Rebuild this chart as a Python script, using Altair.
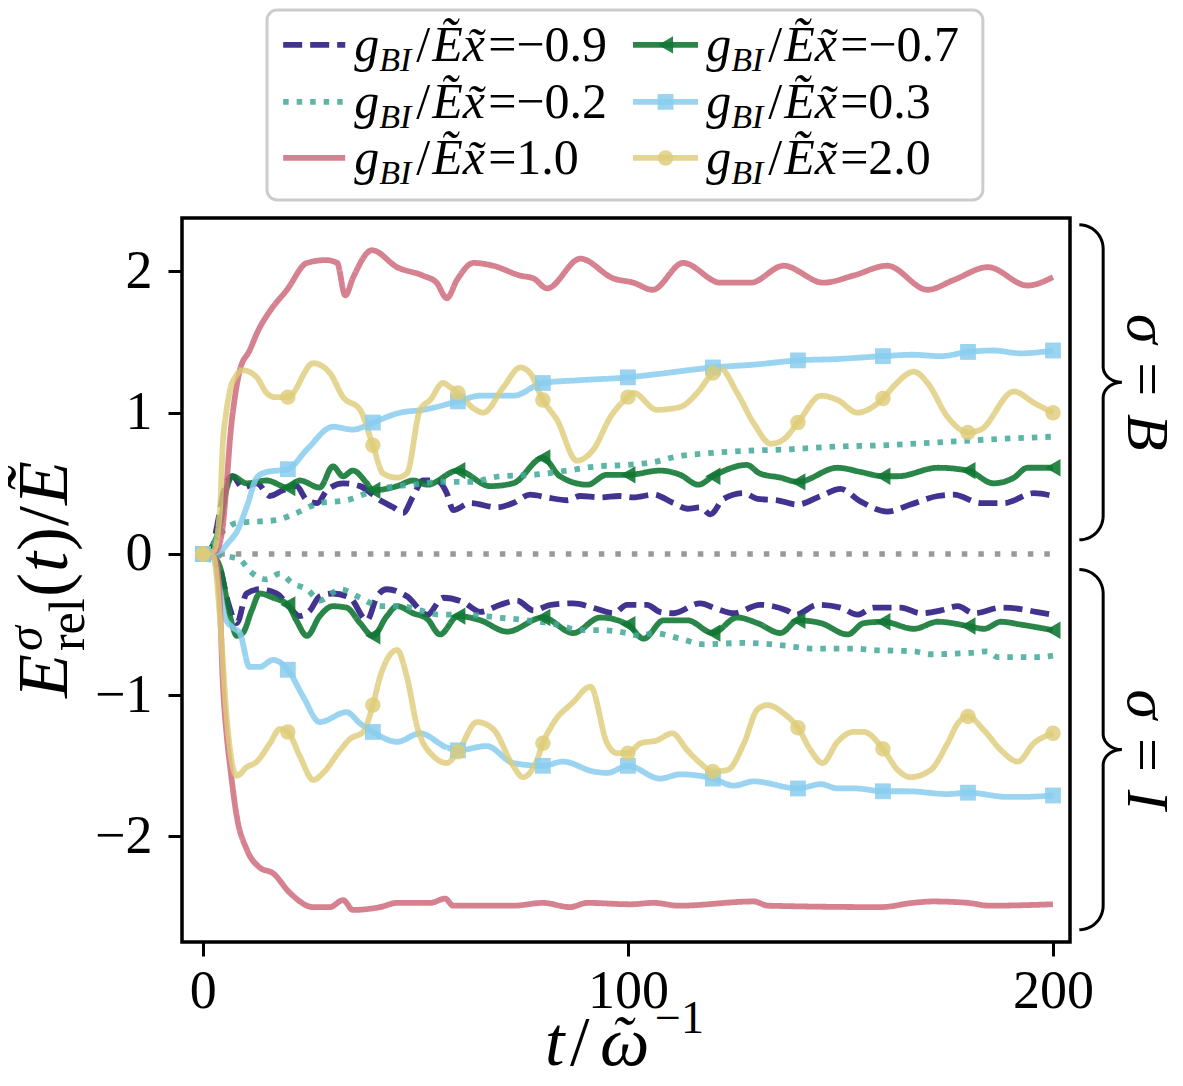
import altair as alt
import numpy as np
import pandas as pd

# ---------------- series identity ----------------
G_VALUES = ["-0.9", "-0.7", "-0.2", "0.3", "1.0", "2.0"]
G_TEXT = ["=\u22120.9", "=\u22120.7", "=\u22120.2", "=0.3", "=1.0", "=2.0"]
TICKS_X = [0, 100, 200]
TICKS_Y = [-2, -1, 0, 1, 2]

# ---------------- data ----------------
# g = -0.9 (dashed)
NB_t = [0, 2, 3.3, 5, 7, 9.4, 12.7, 15.8, 18.8, 22, 24.5, 26.9, 29.2, 33, 37, 41.7, 44.8, 47.1, 49.5, 51.8, 55, 57.4, 58.9, 62.9, 69.2, 73, 77, 81, 85.7, 88.8, 93.5, 98, 101.3, 106, 110.7, 114, 117, 119.4, 122.5, 127.2, 130.5, 135.2, 139.9, 145.4, 150, 154.8, 161, 166.5, 172.9, 176.7, 183, 188.5, 195.5, 200]
NB_v = [0, 0.02, 0.19, 0.45, 0.55, 0.47, 0.50, 0.41, 0.45, 0.48, 0.38, 0.36, 0.45, 0.50, 0.48, 0.38, 0.33, 0.29, 0.41, 0.52, 0.52, 0.43, 0.31, 0.36, 0.33, 0.36, 0.42, 0.40, 0.38, 0.41, 0.40, 0.41, 0.40, 0.42, 0.36, 0.32, 0.33, 0.28, 0.39, 0.43, 0.39, 0.38, 0.35, 0.41, 0.46, 0.37, 0.30, 0.35, 0.41, 0.42, 0.36, 0.36, 0.43, 0.41]
NI_t = [0, 2.4, 4, 6, 8, 10.3, 13.4, 17.4, 20.5, 22.8, 25.2, 27.5, 30.6, 34.6, 38.6, 41, 43.3, 48, 52.8, 56.5, 61.2, 65.3, 70, 73.9, 77.8, 81.8, 87.1, 92.8, 96.6, 99.8, 104.5, 107.5, 110.7, 117, 121, 124.9, 131, 137.4, 139.5, 144.6, 150, 154, 157.8, 164.2, 168.9, 173.6, 177.6, 181.4, 187.8, 192.4, 196, 200]
NI_v = [0, -0.02, -0.10, -0.35, -0.49, -0.28, -0.25, -0.28, -0.38, -0.44, -0.40, -0.30, -0.28, -0.31, -0.47, -0.30, -0.25, -0.30, -0.43, -0.31, -0.34, -0.41, -0.36, -0.33, -0.40, -0.36, -0.35, -0.39, -0.42, -0.36, -0.36, -0.41, -0.42, -0.35, -0.39, -0.42, -0.36, -0.40, -0.43, -0.36, -0.38, -0.43, -0.38, -0.38, -0.42, -0.40, -0.37, -0.42, -0.38, -0.39, -0.41, -0.43]

# g = -0.7 (triangles)
GB_t = [0, 2.5, 4, 5.5, 7, 10.3, 15, 20, 22.8, 27.5, 30.6, 33, 35.3, 38.6, 40, 45.7, 49.5, 52.8, 60, 67.6, 73, 80, 84, 90.5, 95, 100, 107.6, 112.3, 116.6, 120, 128, 131, 135.9, 140, 149.3, 154.8, 160, 163.5, 172.9, 180, 186, 190.8, 194, 200]
GB_v = [0, 0.07, 0.2, 0.45, 0.55, 0.50, 0.52, 0.47, 0.52, 0.47, 0.62, 0.55, 0.59, 0.50, 0.45, 0.48, 0.52, 0.49, 0.59, 0.48, 0.50, 0.68, 0.55, 0.49, 0.56, 0.56, 0.59, 0.56, 0.49, 0.55, 0.63, 0.57, 0.54, 0.51, 0.61, 0.58, 0.55, 0.55, 0.61, 0.59, 0.50, 0.54, 0.61, 0.61]
GI_t = [0, 2.5, 4, 6.4, 8, 9.4, 11.5, 13.4, 16.5, 20, 22, 24.5, 27.5, 30.6, 33.8, 37, 40, 43.3, 45.7, 49.5, 52.8, 55.8, 60, 65.3, 71.6, 80, 87.1, 93.5, 100, 103.7, 108.4, 114, 120, 125.7, 130.5, 135.9, 140, 145.4, 151.7, 155.5, 160, 167.3, 172.9, 180, 183.8, 187.8, 192.4, 200]
GI_v = [0, -0.02, -0.09, -0.44, -0.58, -0.56, -0.40, -0.28, -0.31, -0.36, -0.47, -0.58, -0.44, -0.37, -0.38, -0.49, -0.58, -0.44, -0.37, -0.42, -0.46, -0.57, -0.44, -0.47, -0.55, -0.45, -0.56, -0.45, -0.50, -0.60, -0.47, -0.47, -0.56, -0.45, -0.49, -0.56, -0.47, -0.49, -0.57, -0.49, -0.48, -0.53, -0.48, -0.51, -0.53, -0.48, -0.50, -0.54]

# g = -0.2 (dotted)
TB_t = [0, 2, 3.5, 5.5, 8, 13.4, 17.4, 22, 27.5, 33.8, 38.6, 43.3, 49.5, 55.8, 62.9, 70, 77.8, 85.7, 92.8, 99.8, 106, 111.6, 117.8, 128, 137.4, 149.3, 161, 172.9, 184.7, 200]
TB_v = [0, 0.05, 0.12, 0.18, 0.22, 0.23, 0.24, 0.29, 0.36, 0.38, 0.43, 0.47, 0.49, 0.51, 0.51, 0.55, 0.56, 0.59, 0.62, 0.63, 0.65, 0.69, 0.71, 0.73, 0.74, 0.76, 0.77, 0.79, 0.81, 0.83]
TI_t = [0, 4, 8.7, 11, 15, 18.1, 21.2, 24.5, 27.5, 32.3, 37, 41.7, 46.4, 51.1, 55.8, 62.1, 69.2, 76.3, 83.3, 88.8, 94.2, 99.8, 103, 106, 112.3, 117.8, 127.3, 137.4, 143, 153, 157.8, 167.3, 171.2, 180.7, 184.5, 187, 196.4, 200]
TI_v = [0, -0.01, -0.04, -0.12, -0.18, -0.14, -0.21, -0.25, -0.33, -0.25, -0.31, -0.37, -0.37, -0.40, -0.43, -0.43, -0.45, -0.47, -0.50, -0.54, -0.54, -0.56, -0.58, -0.56, -0.60, -0.64, -0.63, -0.65, -0.67, -0.67, -0.68, -0.69, -0.71, -0.70, -0.69, -0.73, -0.73, -0.72]

# g = 0.3 (squares)
BB_t = [0, 4, 6, 8.2, 10.5, 12.7, 15, 20, 24.5, 30.6, 35.3, 40, 46.4, 51.8, 60, 65.3, 73, 80, 88.8, 100, 106, 114, 120, 129.6, 140, 149.3, 160, 167, 173.6, 180, 186, 192.4, 200]
BB_v = [0, 0.02, 0.08, 0.17, 0.35, 0.54, 0.58, 0.60, 0.74, 0.90, 0.88, 0.93, 1.00, 1.02, 1.08, 1.12, 1.12, 1.21, 1.23, 1.25, 1.27, 1.30, 1.32, 1.34, 1.37, 1.38, 1.40, 1.41, 1.40, 1.43, 1.44, 1.42, 1.44]
BI_t = [0, 2.5, 4, 5.2, 7, 8.7, 11, 13.4, 16.5, 20, 23.6, 27.5, 33.8, 37, 40, 45.7, 51.1, 57.4, 60, 66.8, 73, 80, 84.7, 91.9, 95.1, 100, 107.6, 112.3, 120, 124.9, 129.6, 140, 145.4, 149.3, 153.5, 160, 166, 175.2, 180, 189.4, 192.5, 200]
BI_v = [0, -0.03, -0.25, -0.45, -0.52, -0.56, -0.80, -0.80, -0.75, -0.82, -1.01, -1.19, -1.12, -1.20, -1.26, -1.33, -1.27, -1.37, -1.39, -1.36, -1.48, -1.50, -1.47, -1.54, -1.55, -1.50, -1.59, -1.56, -1.59, -1.64, -1.61, -1.66, -1.63, -1.66, -1.66, -1.68, -1.68, -1.70, -1.69, -1.72, -1.72, -1.71]

# g = 1.0 (solid)
RB_t = [0, 3, 4.5, 5.6, 6.5, 7.5, 8.7, 11, 13, 15.8, 19.8, 24.5, 29, 31.6, 33.5, 35.4, 39.8, 45.7, 51.8, 55, 57.4, 59.8, 63.7, 68.3, 74.7, 77.8, 81, 88.8, 96.6, 101.3, 105.8, 113, 121.8, 128.9, 136.6, 146, 153, 161, 170.5, 176.7, 184.7, 194, 200]
RB_v = [0, 0.02, 0.15, 0.5, 0.85, 1.1, 1.3, 1.44, 1.58, 1.72, 1.87, 2.06, 2.08, 2.06, 1.83, 1.96, 2.15, 2.03, 1.97, 1.92, 1.81, 1.94, 2.06, 2.04, 1.97, 1.95, 1.88, 2.09, 1.95, 1.92, 1.87, 2.06, 1.92, 1.92, 2.04, 1.92, 1.97, 2.04, 1.87, 1.94, 2.03, 1.90, 1.96]
RI_t = [0, 3, 4, 4.7, 5.5, 6.4, 8, 10.3, 13.4, 16.5, 20.5, 26, 29.9, 33, 35.3, 41.7, 45.7, 53.5, 57, 58.9, 73, 80, 86.4, 90.4, 100.6, 106, 112, 129.6, 133, 159.5, 167, 171.7, 180, 185, 200]
RI_v = [0, -0.03, -0.35, -0.91, -1.25, -1.50, -1.86, -2.09, -2.22, -2.26, -2.40, -2.50, -2.50, -2.45, -2.52, -2.50, -2.47, -2.47, -2.44, -2.49, -2.49, -2.47, -2.50, -2.47, -2.48, -2.47, -2.49, -2.46, -2.49, -2.50, -2.47, -2.46, -2.47, -2.49, -2.48]

# g = 2.0 (circles)
YB_t = [0, 2.5, 4, 4.7, 5.5, 6.4, 7.8, 9.4, 12.7, 15, 17, 20, 26, 29.9, 33, 37, 40, 42.4, 45.7, 48, 51.1, 53.5, 56.5, 58.2, 60, 63.7, 66, 70.7, 74.7, 77, 80, 83.3, 88, 91.9, 95.9, 100, 101.3, 106.8, 112.3, 116.3, 120, 121.8, 125.7, 129.7, 133.6, 136.6, 140, 145.4, 149.3, 154, 157, 160, 162.6, 167.3, 170.5, 175.2, 180, 183, 190.8, 195.5, 200]
YB_v = [0, 0.02, 0.3, 0.78, 1.0, 1.16, 1.26, 1.30, 1.25, 1.14, 1.11, 1.11, 1.35, 1.28, 1.11, 1.02, 0.77, 0.57, 0.54, 0.57, 1.02, 1.09, 1.21, 1.18, 1.14, 1.03, 1.00, 1.18, 1.32, 1.28, 1.09, 0.95, 0.66, 0.74, 0.97, 1.11, 1.14, 1.02, 1.04, 1.14, 1.28, 1.31, 1.14, 0.92, 0.78, 0.81, 0.93, 1.12, 1.09, 1.00, 1.03, 1.10, 1.19, 1.29, 1.21, 0.97, 0.86, 0.88, 1.15, 1.07, 1.00]
YI_t = [0, 2.5, 4, 5.6, 7, 8, 10.3, 12.7, 15.8, 18.1, 20, 22.8, 26, 28.3, 32.3, 34.6, 37.7, 40, 41.7, 45.7, 48, 50.4, 54.2, 57.4, 60, 64.5, 68.3, 73, 75.3, 78.6, 80, 82.4, 87.1, 91.2, 95.1, 97.4, 100, 103, 106.8, 110.4, 114, 117, 120, 123.4, 127.3, 130.5, 132.8, 136.7, 140, 143, 145.8, 149.3, 153, 155.5, 160, 163.5, 166.5, 171.2, 175.2, 177.6, 180, 183.8, 187.8, 191.7, 195.5, 200]
YI_v = [0, -0.02, -0.44, -1.15, -1.50, -1.57, -1.51, -1.47, -1.34, -1.24, -1.26, -1.43, -1.60, -1.55, -1.39, -1.31, -1.26, -1.07, -0.87, -0.68, -0.87, -1.22, -1.43, -1.48, -1.40, -1.19, -1.24, -1.50, -1.58, -1.46, -1.34, -1.20, -1.05, -0.94, -1.34, -1.41, -1.41, -1.34, -1.32, -1.27, -1.39, -1.48, -1.54, -1.53, -1.34, -1.10, -1.07, -1.13, -1.23, -1.39, -1.48, -1.33, -1.26, -1.26, -1.38, -1.53, -1.58, -1.53, -1.34, -1.20, -1.15, -1.25, -1.39, -1.47, -1.34, -1.27]

ZERO_t = [0, 200]
ZERO_v = [0, 0]

# brace extents (sigma = B above, sigma = I below)
BRACE_LABELS = ["\u03c3 = B", "\u03c3 = I"]
BRACE_TOP = [2.33, -0.11]
BRACE_BOT = [0.10, -2.66]

SERIES = [
    ("-0.9", "B", NB_t, NB_v), ("-0.9", "I", NI_t, NI_v),
    ("-0.7", "B", GB_t, GB_v), ("-0.7", "I", GI_t, GI_v),
    ("-0.2", "B", TB_t, TB_v), ("-0.2", "I", TI_t, TI_v),
    ("0.3", "B", BB_t, BB_v), ("0.3", "I", BI_t, BI_v),
    ("1.0", "B", RB_t, RB_v), ("1.0", "I", RI_t, RI_v),
    ("2.0", "B", YB_t, YB_v), ("2.0", "I", YI_t, YI_v),
]

# ---------------- styles ----------------
SERIF = "Liberation Serif"
COLORS = ["#332288", "#117733", "#44AA99", "#88CCEE", "#CC6677", "#DDCC77"]
OPAC = [0.92, 0.8, 0.9, 1.0, 1.0, 1.0]
LW = 5.8
DASHES = [[19, 8], [1, 0], [5.5, 8], [1, 0], [1, 0], [1, 0]]
MARKERS = [("-0.7", "triangle-left", 300), ("0.3", "square", 250), ("2.0", "circle", 240)]

rows = []
for g, s, ts, vs in SERIES:
    for t, v in zip(ts, vs):
        rows.append({"g": g, "sigma": s, "t": t, "v": v})
df = pd.DataFrame(rows)
zero_df = pd.DataFrame({"t": ZERO_t, "v": ZERO_v})

XS = alt.Scale(domain=[-4.9, 204.0], nice=False, zero=False)
YS = alt.Scale(domain=[-2.747, 2.378], nice=False, zero=False)
XA = alt.Axis(values=TICKS_X, format="d", title=None, labelPadding=8)
YA = alt.Axis(values=TICKS_Y, format="d", title=None, labelPadding=16)


def X(f="t"):
    return alt.X(f + ":Q", scale=XS, axis=XA)


def Y(f="v"):
    return alt.Y(f + ":Q", scale=YS, axis=YA)


COLOR = alt.Color("g:N", scale=alt.Scale(domain=G_VALUES, range=COLORS), legend=None)
DASH = alt.StrokeDash("g:N", scale=alt.Scale(domain=G_VALUES, range=DASHES), legend=None)
OPACITY = alt.Opacity("g:N", scale=alt.Scale(domain=G_VALUES, range=OPAC), legend=None)

layers = []

# zero reference line
layers.append(alt.Chart(zero_df).mark_line(color="#999999", strokeWidth=5.5, strokeDash=[5.5, 11])
              .encode(x=X(), y=Y()))

# series lines
layers.append(alt.Chart(df).mark_line(strokeWidth=LW, interpolate="monotone", strokeJoin="round")
              .encode(x=X(), y=Y(), color=COLOR, strokeDash=DASH, opacity=OPACITY, detail="sigma:N"))

# markers every 20 time units
for g, shp, sz in MARKERS:
    layers.append(alt.Chart(df).transform_filter(
        (alt.datum.g == g) & (alt.datum.t % 20 == 0)
    ).mark_point(shape=shp, size=sz, filled=True, strokeWidth=0)
        .encode(x=X(), y=Y(), color=COLOR, opacity=OPACITY))

# ---------------- legend (drawn in data space above the axes) ----------------
LEG_BOX = {"t": [15.1], "t2": [183.5], "v": [3.85], "v2": [2.506]}
LEG_ROW_V = [3.603, 3.200, 2.803]
LEG_LINE_T = [(18.9, 33.5), (101.2, 116.5)]
LEG_TEXT_T = [35.6, 118.4]

leg_rows = []
for i, g in enumerate(G_VALUES):
    col, row = i % 2, i // 2
    t0, t1 = LEG_LINE_T[col]
    leg_rows.append({"g": g, "t": t0, "t2": t1, "tm": (t0 + t1) / 2, "v": LEG_ROW_V[row],
                     "tt": LEG_TEXT_T[col], "val": G_TEXT[i]})
leg_df = pd.DataFrame(leg_rows)

layers.append(alt.Chart(pd.DataFrame(LEG_BOX)).mark_rect(
    fill="white", stroke="#cccccc", strokeWidth=3, cornerRadius=10)
    .encode(x=X(), x2="t2:Q", y=Y(), y2="v2:Q"))
layers.append(alt.Chart(leg_df).mark_rule(strokeWidth=LW)
              .encode(x=X(), x2="t2:Q", y=Y(), color=COLOR, strokeDash=DASH, opacity=OPACITY))
for g, shp, sz in MARKERS:
    layers.append(alt.Chart(leg_df).transform_filter(alt.datum.g == g)
                  .mark_point(shape=shp, size=sz, filled=True, strokeWidth=0)
                  .encode(x=X("tm"), y=Y(), color=COLOR, opacity=OPACITY))

TXT = dict(font=SERIF, color="black", align="left", baseline="alphabetic")
layers.append(alt.Chart(leg_df).mark_text(text="g", fontSize=50, fontStyle="italic", dx=0, dy=16, **TXT)
              .encode(x=X("tt"), y=Y()))
layers.append(alt.Chart(leg_df).mark_text(text="BI", fontSize=34, fontStyle="italic", dx=25, dy=26, **TXT)
              .encode(x=X("tt"), y=Y()))
layers.append(alt.Chart(leg_df).mark_text(text="/", fontSize=50, dx=62, dy=16, **TXT)
              .encode(x=X("tt"), y=Y()))
layers.append(alt.Chart(leg_df).mark_text(text="\u1ebcx\u0303", fontSize=50, fontStyle="italic", dx=78, dy=16, **TXT)
              .encode(x=X("tt"), y=Y()))
layers.append(alt.Chart(leg_df).mark_text(fontSize=50, dx=134, dy=16, **TXT)
              .encode(x=X("tt"), y=Y(), text="val:N"))

# ---------------- braces on the right ----------------
BR_T_TIP, BR_T_STEM, BR_T_NUB = 206.2, 211.8, 216.2
BR_RV1, BR_RV2 = 0.17, 0.11
arc = np.linspace(0, np.pi / 2, 14)
br_rows = []
for k, (vt, vb) in enumerate(zip(BRACE_TOP, BRACE_BOT)):
    vm = (vt + vb) / 2
    r1 = BR_T_STEM - BR_T_TIP
    r2 = BR_T_NUB - BR_T_STEM
    pts = []
    pts += [(BR_T_TIP + r1 * np.sin(a), vt - BR_RV1 + BR_RV1 * np.cos(a)) for a in arc]
    pts += [(BR_T_NUB - r2 * np.cos(a), vm + BR_RV2 - BR_RV2 * np.sin(a)) for a in arc]
    pts += [(BR_T_NUB - r2 * np.sin(a), vm - BR_RV2 + BR_RV2 * np.cos(a)) for a in arc]
    pts += [(BR_T_TIP + r1 * np.cos(a), vb + BR_RV1 - BR_RV1 * np.sin(a)) for a in arc]
    for j, (tt, vv) in enumerate(pts):
        br_rows.append({"b": k, "o": j, "t": tt, "v": vv})
br_df = pd.DataFrame(br_rows)
layers.append(alt.Chart(br_df).mark_line(color="black", strokeWidth=3, interpolate="linear")
              .encode(x=X(), y=Y(), order="o:Q", detail="b:N"))

br_txt = pd.DataFrame({"t": [217.6, 217.6],
                       "v": [(a + b) / 2 for a, b in zip(BRACE_TOP, BRACE_BOT)],
                       "lab": BRACE_LABELS})
layers.append(alt.Chart(br_txt).mark_text(font=SERIF, fontSize=60, fontStyle="italic", angle=90,
                                          align="center", baseline="alphabetic", color="black")
              .encode(x=X(), y=Y(), text="lab:N"))

# ---------------- y-axis title built from pieces ----------------
ytitle_anchor = pd.DataFrame({"t": [-32.0], "v": [-1.02]})
YT = dict(font=SERIF, color="black", angle=270, align="left", baseline="alphabetic")
YT_PIECES = [
    ("E", 72, "italic", 0, 0),
    ("\u03c3", 50, "italic", 47, -25),
    ("rel", 50, "normal", 47, 17),
    ("(", 72, "normal", 101, 0),
    ("t", 72, "italic", 126, 0),
    (")", 72, "normal", 147, 0),
    ("/", 72, "normal", 172, 0),
    ("\u1ebc", 72, "italic", 193, 0),
]
for txt, fs, st, ddx, ddy in YT_PIECES:
    layers.append(alt.Chart(ytitle_anchor).mark_text(text=txt, fontSize=fs, fontStyle=st, dx=ddx, dy=ddy, **YT)
                  .encode(x=X(), y=Y()))

# ---------------- x-axis title built from pieces ----------------
xtitle_anchor = pd.DataFrame({"t": [80.5], "v": [-3.615]})
XT = dict(font=SERIF, color="black", align="left", baseline="alphabetic")
XT_PIECES = [
    ("t", 70, "italic", 0, 0),
    ("/", 70, "normal", 25, 0),
    ("\u03c9", 70, "italic", 55, 0),
    ("\u02dc", 62, "italic", 66, -6),
    ("\u22121", 46, "normal", 110, -32),
]
for txt, fs, st, ddx, ddy in XT_PIECES:
    layers.append(alt.Chart(xtitle_anchor).mark_text(text=txt, fontSize=fs, fontStyle=st, dx=ddx, dy=ddy, **XT)
                  .encode(x=X(), y=Y()))

chart = alt.layer(*layers).properties(
    width=888, height=724,
    padding={"left": 174, "top": 210, "right": 105, "bottom": 136},
    autosize=alt.AutoSizeParams(type="none"),
).configure_view(
    stroke="black", strokeWidth=3.5
).configure_axis(
    domain=False, grid=False, ticks=True, tickColor="black", tickWidth=3, tickSize=14,
    labelFont=SERIF, labelFontSize=54, labelColor="black"
)

chart.save("out.html", embed_options={"renderer": "svg", "actions": False})
